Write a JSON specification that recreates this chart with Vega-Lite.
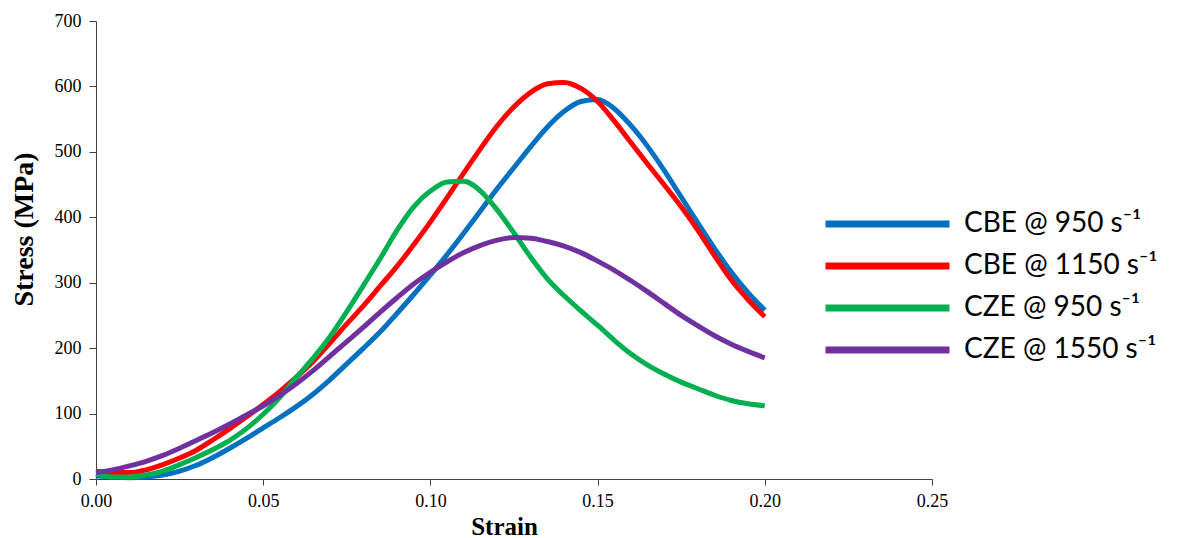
{
  "$schema": "https://vega.github.io/schema/vega-lite/v6.json",
  "width": 836,
  "height": 458,
  "autosize": {"type": "none"},
  "padding": {"left": 96, "top": 21, "right": 256, "bottom": 59},
  "background": "white",
  "config": {"view": {"stroke": null}},
  "data": {"values": [
    {"series": "CBE @ 950 s⁻¹", "strain": 0.000, "stress": 5},
    {"series": "CBE @ 950 s⁻¹", "strain": 0.005, "stress": 3},
    {"series": "CBE @ 950 s⁻¹", "strain": 0.010, "stress": 2},
    {"series": "CBE @ 950 s⁻¹", "strain": 0.015, "stress": 3},
    {"series": "CBE @ 950 s⁻¹", "strain": 0.020, "stress": 6},
    {"series": "CBE @ 950 s⁻¹", "strain": 0.025, "stress": 12},
    {"series": "CBE @ 950 s⁻¹", "strain": 0.030, "stress": 21},
    {"series": "CBE @ 950 s⁻¹", "strain": 0.035, "stress": 33},
    {"series": "CBE @ 950 s⁻¹", "strain": 0.040, "stress": 47},
    {"series": "CBE @ 950 s⁻¹", "strain": 0.045, "stress": 62},
    {"series": "CBE @ 950 s⁻¹", "strain": 0.050, "stress": 78},
    {"series": "CBE @ 950 s⁻¹", "strain": 0.055, "stress": 94},
    {"series": "CBE @ 950 s⁻¹", "strain": 0.060, "stress": 111},
    {"series": "CBE @ 950 s⁻¹", "strain": 0.065, "stress": 130},
    {"series": "CBE @ 950 s⁻¹", "strain": 0.070, "stress": 152},
    {"series": "CBE @ 950 s⁻¹", "strain": 0.075, "stress": 176},
    {"series": "CBE @ 950 s⁻¹", "strain": 0.080, "stress": 200},
    {"series": "CBE @ 950 s⁻¹", "strain": 0.085, "stress": 225},
    {"series": "CBE @ 950 s⁻¹", "strain": 0.090, "stress": 253},
    {"series": "CBE @ 950 s⁻¹", "strain": 0.095, "stress": 282},
    {"series": "CBE @ 950 s⁻¹", "strain": 0.100, "stress": 312},
    {"series": "CBE @ 950 s⁻¹", "strain": 0.105, "stress": 343},
    {"series": "CBE @ 950 s⁻¹", "strain": 0.110, "stress": 376},
    {"series": "CBE @ 950 s⁻¹", "strain": 0.115, "stress": 410},
    {"series": "CBE @ 950 s⁻¹", "strain": 0.120, "stress": 444},
    {"series": "CBE @ 950 s⁻¹", "strain": 0.125, "stress": 476},
    {"series": "CBE @ 950 s⁻¹", "strain": 0.130, "stress": 508},
    {"series": "CBE @ 950 s⁻¹", "strain": 0.135, "stress": 538},
    {"series": "CBE @ 950 s⁻¹", "strain": 0.140, "stress": 562},
    {"series": "CBE @ 950 s⁻¹", "strain": 0.145, "stress": 577},
    {"series": "CBE @ 950 s⁻¹", "strain": 0.150, "stress": 580},
    {"series": "CBE @ 950 s⁻¹", "strain": 0.155, "stress": 566},
    {"series": "CBE @ 950 s⁻¹", "strain": 0.160, "stress": 540},
    {"series": "CBE @ 950 s⁻¹", "strain": 0.165, "stress": 508},
    {"series": "CBE @ 950 s⁻¹", "strain": 0.170, "stress": 471},
    {"series": "CBE @ 950 s⁻¹", "strain": 0.175, "stress": 431},
    {"series": "CBE @ 950 s⁻¹", "strain": 0.180, "stress": 391},
    {"series": "CBE @ 950 s⁻¹", "strain": 0.185, "stress": 352},
    {"series": "CBE @ 950 s⁻¹", "strain": 0.190, "stress": 316},
    {"series": "CBE @ 950 s⁻¹", "strain": 0.195, "stress": 285},
    {"series": "CBE @ 950 s⁻¹", "strain": 0.200, "stress": 258},
    {"series": "CBE @ 1150 s⁻¹", "strain": 0.000, "stress": 12},
    {"series": "CBE @ 1150 s⁻¹", "strain": 0.005, "stress": 10},
    {"series": "CBE @ 1150 s⁻¹", "strain": 0.010, "stress": 10},
    {"series": "CBE @ 1150 s⁻¹", "strain": 0.015, "stress": 14},
    {"series": "CBE @ 1150 s⁻¹", "strain": 0.020, "stress": 22},
    {"series": "CBE @ 1150 s⁻¹", "strain": 0.025, "stress": 32},
    {"series": "CBE @ 1150 s⁻¹", "strain": 0.030, "stress": 44},
    {"series": "CBE @ 1150 s⁻¹", "strain": 0.035, "stress": 60},
    {"series": "CBE @ 1150 s⁻¹", "strain": 0.040, "stress": 77},
    {"series": "CBE @ 1150 s⁻¹", "strain": 0.045, "stress": 95},
    {"series": "CBE @ 1150 s⁻¹", "strain": 0.050, "stress": 114},
    {"series": "CBE @ 1150 s⁻¹", "strain": 0.055, "stress": 134},
    {"series": "CBE @ 1150 s⁻¹", "strain": 0.060, "stress": 156},
    {"series": "CBE @ 1150 s⁻¹", "strain": 0.065, "stress": 180},
    {"series": "CBE @ 1150 s⁻¹", "strain": 0.070, "stress": 208},
    {"series": "CBE @ 1150 s⁻¹", "strain": 0.075, "stress": 237},
    {"series": "CBE @ 1150 s⁻¹", "strain": 0.080, "stress": 265},
    {"series": "CBE @ 1150 s⁻¹", "strain": 0.085, "stress": 295},
    {"series": "CBE @ 1150 s⁻¹", "strain": 0.090, "stress": 325},
    {"series": "CBE @ 1150 s⁻¹", "strain": 0.095, "stress": 358},
    {"series": "CBE @ 1150 s⁻¹", "strain": 0.100, "stress": 393},
    {"series": "CBE @ 1150 s⁻¹", "strain": 0.105, "stress": 430},
    {"series": "CBE @ 1150 s⁻¹", "strain": 0.110, "stress": 468},
    {"series": "CBE @ 1150 s⁻¹", "strain": 0.115, "stress": 505},
    {"series": "CBE @ 1150 s⁻¹", "strain": 0.120, "stress": 540},
    {"series": "CBE @ 1150 s⁻¹", "strain": 0.125, "stress": 569},
    {"series": "CBE @ 1150 s⁻¹", "strain": 0.130, "stress": 591},
    {"series": "CBE @ 1150 s⁻¹", "strain": 0.135, "stress": 604},
    {"series": "CBE @ 1150 s⁻¹", "strain": 0.140, "stress": 606},
    {"series": "CBE @ 1150 s⁻¹", "strain": 0.145, "stress": 597},
    {"series": "CBE @ 1150 s⁻¹", "strain": 0.150, "stress": 577},
    {"series": "CBE @ 1150 s⁻¹", "strain": 0.155, "stress": 547},
    {"series": "CBE @ 1150 s⁻¹", "strain": 0.160, "stress": 514},
    {"series": "CBE @ 1150 s⁻¹", "strain": 0.165, "stress": 481},
    {"series": "CBE @ 1150 s⁻¹", "strain": 0.170, "stress": 449},
    {"series": "CBE @ 1150 s⁻¹", "strain": 0.175, "stress": 416},
    {"series": "CBE @ 1150 s⁻¹", "strain": 0.180, "stress": 380},
    {"series": "CBE @ 1150 s⁻¹", "strain": 0.185, "stress": 341},
    {"series": "CBE @ 1150 s⁻¹", "strain": 0.190, "stress": 304},
    {"series": "CBE @ 1150 s⁻¹", "strain": 0.195, "stress": 274},
    {"series": "CBE @ 1150 s⁻¹", "strain": 0.200, "stress": 248},
    {"series": "CZE @ 950 s⁻¹", "strain": 0.000, "stress": 8},
    {"series": "CZE @ 950 s⁻¹", "strain": 0.005, "stress": 3},
    {"series": "CZE @ 950 s⁻¹", "strain": 0.010, "stress": 3},
    {"series": "CZE @ 950 s⁻¹", "strain": 0.015, "stress": 6},
    {"series": "CZE @ 950 s⁻¹", "strain": 0.020, "stress": 12},
    {"series": "CZE @ 950 s⁻¹", "strain": 0.025, "stress": 22},
    {"series": "CZE @ 950 s⁻¹", "strain": 0.030, "stress": 33},
    {"series": "CZE @ 950 s⁻¹", "strain": 0.035, "stress": 45},
    {"series": "CZE @ 950 s⁻¹", "strain": 0.040, "stress": 59},
    {"series": "CZE @ 950 s⁻¹", "strain": 0.045, "stress": 77},
    {"series": "CZE @ 950 s⁻¹", "strain": 0.050, "stress": 99},
    {"series": "CZE @ 950 s⁻¹", "strain": 0.055, "stress": 125},
    {"series": "CZE @ 950 s⁻¹", "strain": 0.060, "stress": 156},
    {"series": "CZE @ 950 s⁻¹", "strain": 0.065, "stress": 185},
    {"series": "CZE @ 950 s⁻¹", "strain": 0.070, "stress": 218},
    {"series": "CZE @ 950 s⁻¹", "strain": 0.075, "stress": 256},
    {"series": "CZE @ 950 s⁻¹", "strain": 0.080, "stress": 296},
    {"series": "CZE @ 950 s⁻¹", "strain": 0.085, "stress": 337},
    {"series": "CZE @ 950 s⁻¹", "strain": 0.090, "stress": 380},
    {"series": "CZE @ 950 s⁻¹", "strain": 0.095, "stress": 416},
    {"series": "CZE @ 950 s⁻¹", "strain": 0.100, "stress": 440},
    {"series": "CZE @ 950 s⁻¹", "strain": 0.105, "stress": 454},
    {"series": "CZE @ 950 s⁻¹", "strain": 0.110, "stress": 455},
    {"series": "CZE @ 950 s⁻¹", "strain": 0.115, "stress": 440},
    {"series": "CZE @ 950 s⁻¹", "strain": 0.120, "stress": 411},
    {"series": "CZE @ 950 s⁻¹", "strain": 0.125, "stress": 376},
    {"series": "CZE @ 950 s⁻¹", "strain": 0.130, "stress": 339},
    {"series": "CZE @ 950 s⁻¹", "strain": 0.135, "stress": 306},
    {"series": "CZE @ 950 s⁻¹", "strain": 0.140, "stress": 280},
    {"series": "CZE @ 950 s⁻¹", "strain": 0.145, "stress": 257},
    {"series": "CZE @ 950 s⁻¹", "strain": 0.150, "stress": 235},
    {"series": "CZE @ 950 s⁻¹", "strain": 0.155, "stress": 212},
    {"series": "CZE @ 950 s⁻¹", "strain": 0.160, "stress": 191},
    {"series": "CZE @ 950 s⁻¹", "strain": 0.165, "stress": 174},
    {"series": "CZE @ 950 s⁻¹", "strain": 0.170, "stress": 160},
    {"series": "CZE @ 950 s⁻¹", "strain": 0.175, "stress": 148},
    {"series": "CZE @ 950 s⁻¹", "strain": 0.180, "stress": 138},
    {"series": "CZE @ 950 s⁻¹", "strain": 0.185, "stress": 128},
    {"series": "CZE @ 950 s⁻¹", "strain": 0.190, "stress": 120},
    {"series": "CZE @ 950 s⁻¹", "strain": 0.195, "stress": 115},
    {"series": "CZE @ 950 s⁻¹", "strain": 0.200, "stress": 112},
    {"series": "CZE @ 1550 s⁻¹", "strain": 0.000, "stress": 10},
    {"series": "CZE @ 1550 s⁻¹", "strain": 0.005, "stress": 14},
    {"series": "CZE @ 1550 s⁻¹", "strain": 0.010, "stress": 20},
    {"series": "CZE @ 1550 s⁻¹", "strain": 0.015, "stress": 27},
    {"series": "CZE @ 1550 s⁻¹", "strain": 0.020, "stress": 36},
    {"series": "CZE @ 1550 s⁻¹", "strain": 0.025, "stress": 47},
    {"series": "CZE @ 1550 s⁻¹", "strain": 0.030, "stress": 59},
    {"series": "CZE @ 1550 s⁻¹", "strain": 0.035, "stress": 71},
    {"series": "CZE @ 1550 s⁻¹", "strain": 0.040, "stress": 84},
    {"series": "CZE @ 1550 s⁻¹", "strain": 0.045, "stress": 98},
    {"series": "CZE @ 1550 s⁻¹", "strain": 0.050, "stress": 112},
    {"series": "CZE @ 1550 s⁻¹", "strain": 0.055, "stress": 128},
    {"series": "CZE @ 1550 s⁻¹", "strain": 0.060, "stress": 146},
    {"series": "CZE @ 1550 s⁻¹", "strain": 0.065, "stress": 166},
    {"series": "CZE @ 1550 s⁻¹", "strain": 0.070, "stress": 188},
    {"series": "CZE @ 1550 s⁻¹", "strain": 0.075, "stress": 210},
    {"series": "CZE @ 1550 s⁻¹", "strain": 0.080, "stress": 232},
    {"series": "CZE @ 1550 s⁻¹", "strain": 0.085, "stress": 255},
    {"series": "CZE @ 1550 s⁻¹", "strain": 0.090, "stress": 277},
    {"series": "CZE @ 1550 s⁻¹", "strain": 0.095, "stress": 298},
    {"series": "CZE @ 1550 s⁻¹", "strain": 0.100, "stress": 316},
    {"series": "CZE @ 1550 s⁻¹", "strain": 0.105, "stress": 332},
    {"series": "CZE @ 1550 s⁻¹", "strain": 0.110, "stress": 346},
    {"series": "CZE @ 1550 s⁻¹", "strain": 0.115, "stress": 357},
    {"series": "CZE @ 1550 s⁻¹", "strain": 0.120, "stress": 365},
    {"series": "CZE @ 1550 s⁻¹", "strain": 0.125, "stress": 369},
    {"series": "CZE @ 1550 s⁻¹", "strain": 0.130, "stress": 368},
    {"series": "CZE @ 1550 s⁻¹", "strain": 0.135, "stress": 363},
    {"series": "CZE @ 1550 s⁻¹", "strain": 0.140, "stress": 356},
    {"series": "CZE @ 1550 s⁻¹", "strain": 0.145, "stress": 346},
    {"series": "CZE @ 1550 s⁻¹", "strain": 0.150, "stress": 333},
    {"series": "CZE @ 1550 s⁻¹", "strain": 0.155, "stress": 319},
    {"series": "CZE @ 1550 s⁻¹", "strain": 0.160, "stress": 303},
    {"series": "CZE @ 1550 s⁻¹", "strain": 0.165, "stress": 286},
    {"series": "CZE @ 1550 s⁻¹", "strain": 0.170, "stress": 268},
    {"series": "CZE @ 1550 s⁻¹", "strain": 0.175, "stress": 250},
    {"series": "CZE @ 1550 s⁻¹", "strain": 0.180, "stress": 234},
    {"series": "CZE @ 1550 s⁻¹", "strain": 0.185, "stress": 219},
    {"series": "CZE @ 1550 s⁻¹", "strain": 0.190, "stress": 206},
    {"series": "CZE @ 1550 s⁻¹", "strain": 0.195, "stress": 195},
    {"series": "CZE @ 1550 s⁻¹", "strain": 0.200, "stress": 185}
  ]},
  "mark": {"type": "line", "strokeWidth": 5, "strokeJoin": "round", "interpolate": "monotone"},
  "encoding": {
    "x": {
      "field": "strain", "type": "quantitative",
      "scale": {"domain": [0, 0.25], "nice": false, "zero": true},
      "axis": {
        "title": "Strain", "values": [0, 0.05, 0.1, 0.15, 0.2, 0.25], "format": ".2f", "labelFlush": false,
        "grid": false, "domainColor": "#404040", "tickColor": "#404040", "tickSize": 6,
        "labelFont": "Liberation Serif", "labelFontSize": 18, "labelColor": "#000000", "labelPadding": 7,
        "titleFont": "Liberation Serif", "titleFontSize": 25, "titleFontWeight": "bold", "titleColor": "#000000", "titlePadding": 4, "titleX": 408
      }
    },
    "y": {
      "field": "stress", "type": "quantitative",
      "scale": {"domain": [0, 700], "nice": false},
      "axis": {
        "title": "Stress (MPa)", "values": [0, 100, 200, 300, 400, 500, 600, 700], "format": "d",
        "grid": false, "domainColor": "#404040", "tickColor": "#404040", "tickSize": 7,
        "labelFont": "Liberation Serif", "labelFontSize": 18, "labelColor": "#000000", "labelPadding": 8,
        "titleFont": "Liberation Serif", "titleFontSize": 28, "titleFontWeight": "bold", "titleColor": "#000000", "titlePadding": 16, "titleY": 208
      }
    },
    "color": {
      "field": "series", "type": "nominal",
      "scale": {
        "domain": ["CBE @ 950 s⁻¹", "CBE @ 1150 s⁻¹", "CZE @ 950 s⁻¹", "CZE @ 1550 s⁻¹"],
        "range": ["#0070C0", "#FF0000", "#00B050", "#7030A0"]
      },
      "legend": {
        "title": null, "orient": "none", "legendX": 726, "legendY": 188,
        "symbolType": "stroke", "symbolSize": 15376, "symbolStrokeWidth": 7, "clipHeight": 30,
        "rowPadding": 12, "labelOffset": 11,
        "labelFont": "Lato", "labelFontSize": 28, "labelColor": "#000000", "labelLimit": 400
      }
    }
  }
}
